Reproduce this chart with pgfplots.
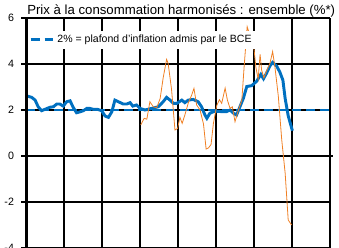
\documentclass[border=0pt]{standalone}
\usepackage{fontspec}
\setmainfont{Liberation Sans}
\usepackage{pgfplots}
\pgfplotsset{compat=1.18}
\definecolor{cblue}{RGB}{0,112,192}
\definecolor{corange}{RGB}{240,128,36}
\begin{document}
\begin{tikzpicture}
\begin{axis}[
  name=ax,
  scale only axis,
  width=228pt, height=172.5pt,
  xmin=0, xmax=8, ymin=-4, ymax=6,
  clip=false,
  xtick=\empty,
  ytick={-4,-2,0,2,4,6},
  ytick pos=left,
  major tick length=0pt,
  axis line style={draw=none},
  tick label style={font=\fontsize{8}{9}\selectfont},
  /pgf/number format/assume math mode=true,
  yticklabel style={xshift=-5.5pt},
  legend style={at={(0.005,0.905)}, anchor=west, draw=none, fill=white,
    font=\fontsize{7.9}{9}\selectfont, inner sep=1pt},
  legend cell align=left,
]
% grid lines, ticks and frame
\addplot[black, line width=0.9pt, forget plot] coordinates {(1,-4)(1,6)};
\addplot[black, line width=0.9pt, forget plot] coordinates {(2,-4)(2,6)};
\addplot[black, line width=0.9pt, forget plot] coordinates {(3,-4)(3,6)};
\addplot[black, line width=0.9pt, forget plot] coordinates {(4,-4)(4,6)};
\addplot[black, line width=0.9pt, forget plot] coordinates {(5,-4)(5,6)};
\addplot[black, line width=0.9pt, forget plot] coordinates {(6,-4)(6,6)};
\addplot[black, line width=0.9pt, forget plot] coordinates {(7,-4)(7,6)};
\addplot[black, line width=0.9pt, forget plot] coordinates {(-0.13,-4)(8,-4)};
\addplot[black, line width=0.9pt, forget plot] coordinates {(-0.13,-2)(8,-2)};
\addplot[black, line width=0.9pt, forget plot] coordinates {(-0.13,2)(8,2)};
\addplot[black, line width=0.9pt, forget plot] coordinates {(-0.13,4)(8,4)};
\addplot[black, line width=0.9pt, forget plot] coordinates {(-0.13,6)(8,6)};
\addplot[black, line width=2.2pt, forget plot] coordinates {(-0.13,0)(8.09,0)};
\addplot[black, line width=1.25pt, forget plot] coordinates {(8,-4)(8,6)};
\addplot[cblue, line width=2.2pt, dash pattern=on 7pt off 3.5pt] coordinates {(0,2) (8,2)};
\addlegendentry{2\% = plafond d'inflation admis par le BCE}
\addplot[cblue, line width=2.2pt, forget plot] coordinates {
(0,2.62)(0.15,2.55)(0.24,2.43)(0.32,2.14)(0.41,1.97)(0.5,2.03)(0.63,2.12)(0.72,2.14)
(0.81,2.26)(0.89,2.26)(0.98,2.17)(1.07,2.36)(1.16,2.4)(1.24,2.12)(1.33,1.88)(1.42,1.92)
(1.51,1.97)(1.6,2.07)(1.68,2.07)(1.77,2.03)(1.88,2.03)(1.99,1.97)(2.08,1.74)(2.17,1.68)
(2.26,1.93)(2.34,2.43)(2.43,2.36)(2.56,2.26)(2.65,2.26)(2.74,2.32)(2.81,2.17)(2.91,2.22)
(3.0,2.07)(3.13,2.0)(3.31,2.07)(3.48,2.14)(3.61,2.36)(3.7,2.55)(3.79,2.43)(3.88,2.29)
(3.97,2.29)(4.1,2.43)(4.18,2.32)(4.27,2.43)(4.4,2.46)(4.53,2.36)(4.62,2.14)(4.71,1.78)
(4.76,1.64)(4.84,1.86)(4.97,1.95)(5.15,1.93)(5.28,1.93)(5.37,2.0)(5.46,1.86)(5.54,1.78)
(5.63,2.14)(5.72,2.51)(5.81,3.02)(5.94,3.06)(6.07,3.25)(6.18,3.55)(6.25,3.36)(6.33,3.6)
(6.42,3.92)(6.49,4.07)(6.6,3.9)(6.68,3.65)(6.76,3.3)(6.82,2.5)(6.9,1.75)(7.01,1.1)
};
\addplot[corange, line width=0.6pt, forget plot] coordinates {
(3.02,1.35)(3.11,1.64)(3.18,1.6)(3.26,2.36)(3.35,2.14)(3.44,2.1)(3.53,2.5)(3.61,3.4)
(3.7,4.2)(3.74,4.03)(3.83,2.9)(3.92,1.13)(3.99,1.2)(4.05,1.68)(4.11,1.42)(4.18,1.78)
(4.27,2.3)(4.36,2.65)(4.42,2.94)(4.49,2.22)(4.58,2.0)(4.67,1.4)(4.74,0.3)(4.8,0.35)
(4.87,0.5)(4.93,1.4)(5.02,2.2)(5.09,2.45)(5.15,2.29)(5.24,2.95)(5.3,2.43)(5.37,2.07)
(5.43,2.14)(5.5,1.49)(5.59,2.0)(5.68,2.43)(5.74,3.88)(5.82,5.62)(5.89,5.25)(5.98,4.97)
(6.05,3.85)(6.11,3.35)(6.16,4.42)(6.2,3.74)(6.26,3.4)(6.33,3.7)(6.42,4.03)(6.49,4.54)
(6.55,3.88)(6.64,2.6)(6.73,0.7)(6.82,-0.75)(6.9,-2.78)(6.99,-3.0)
};
\addplot[black, line width=2.25pt, forget plot] coordinates {(0,-4)(0,6)};
\end{axis}
\node[anchor=base west, inner sep=0pt, font=\fontsize{9.9}{11}\selectfont] at ([xshift=0.75pt,yshift=2.6pt]ax.north west) {Prix à la consommation harmonisés : ensemble (\%*)};
\pgfresetboundingbox
\useasboundingbox ([xshift=-19.5pt,yshift=0.75pt]ax.south west) rectangle ([xshift=6.75pt,yshift=13.5pt]ax.north east);
\end{tikzpicture}
\end{document}
